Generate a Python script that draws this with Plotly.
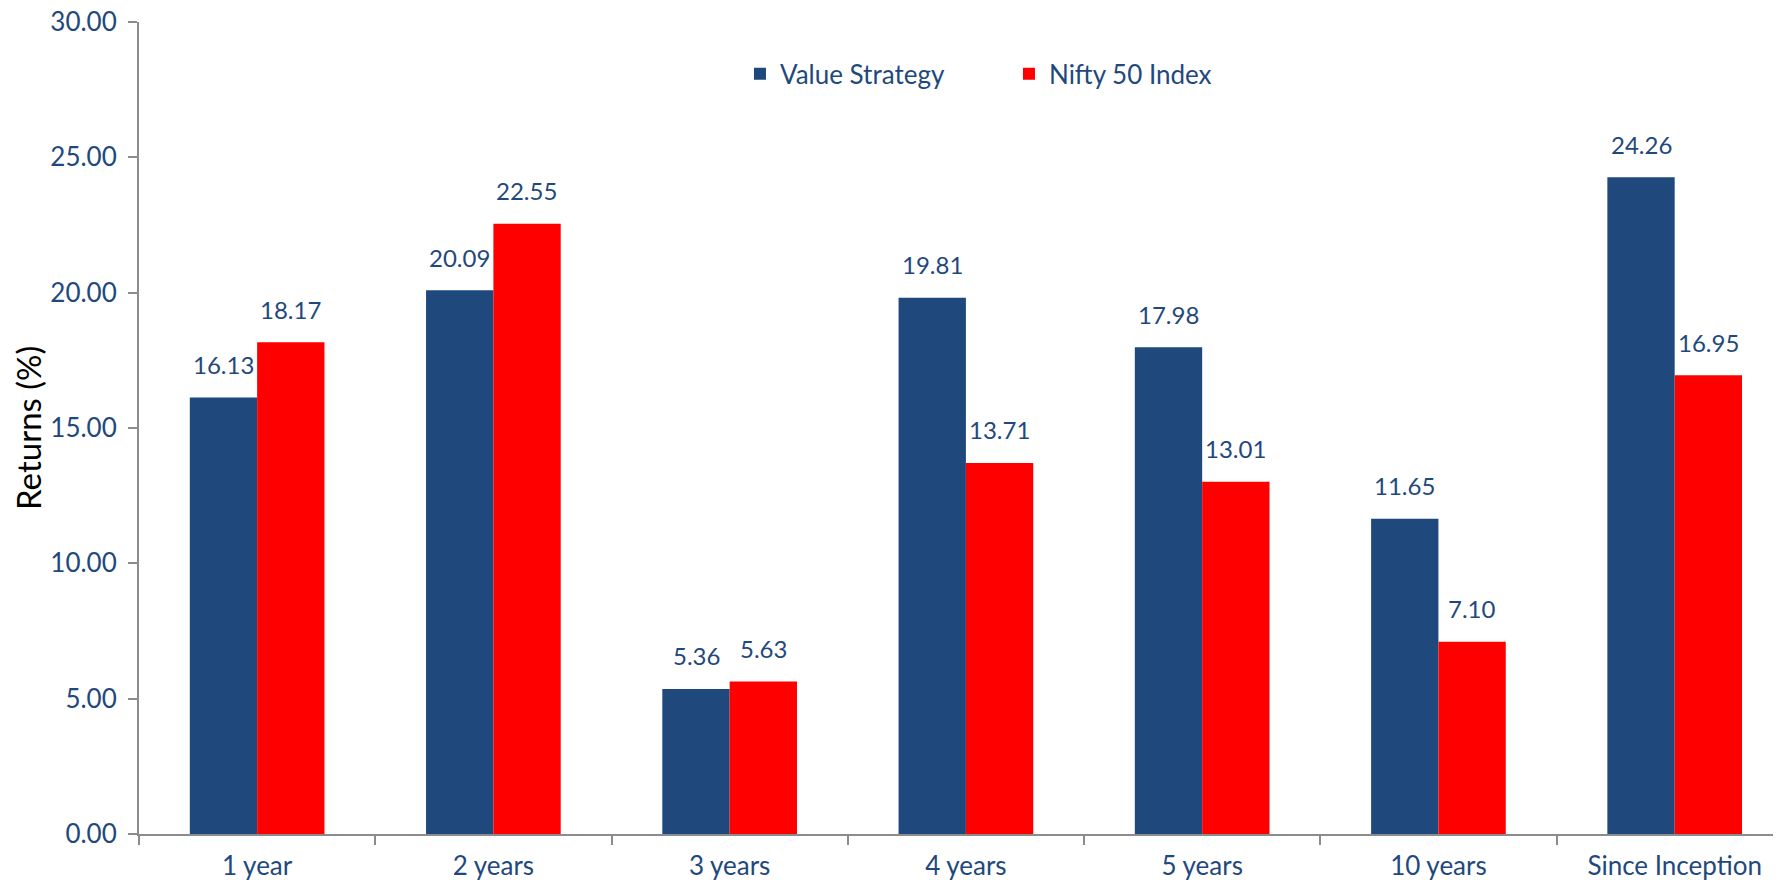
import plotly.graph_objects as go

categories = ["1 year", "2 years", "3 years", "4 years", "5 years", "10 years", "Since Inception"]
value_strategy = [16.13, 20.09, 5.36, 19.81, 17.98, 11.65, 24.26]
nifty_50 = [18.17, 22.55, 5.63, 13.71, 13.01, 7.10, 16.95]
y_ticks = [0, 5, 10, 15, 20, 25, 30]

NAVY = "#1F497D"
BLUE = "#1F497D"
RED = "#FF0000"
FONT = "Lato, 'Open Sans', sans-serif"
FS = 26

fig = go.Figure()
fig.add_trace(go.Bar(name="Value Strategy", x=categories, y=value_strategy,
                     marker=dict(color=BLUE, line=dict(width=0))))
fig.add_trace(go.Bar(name="Nifty 50 Index", x=categories, y=nifty_50,
                     marker=dict(color=RED, line=dict(width=0))))

bar_px = 67
for series, shift in ((value_strategy, -bar_px / 2), (nifty_50, bar_px / 2)):
    for c, v in zip(categories, series):
        fig.add_annotation(x=c, y=v, text=f"{v:.2f}", showarrow=False,
                           xshift=shift, yshift=33, yanchor="middle",
                           font=dict(family=FONT, size=24, color=NAVY))

fig.add_annotation(text="Returns (%)", xref="paper", yref="paper", x=0, y=0.5,
                   xshift=-111, textangle=-90, showarrow=False,
                   xanchor="center", yanchor="middle",
                   font=dict(family=FONT, size=33, color="black"))

fig.update_layout(
    width=1773, height=872,
    margin=dict(l=131, r=0, t=14, b=46, autoexpand=False),
    paper_bgcolor="white", plot_bgcolor="white",
    barmode="group", bargap=0.43, bargroupgap=0,
    font=dict(family=FONT, color=NAVY, size=FS),
    showlegend=True,
    legend=dict(orientation="h", x=0.366, xanchor="left", y=0.936, yanchor="middle",
                font=dict(family=FONT, size=FS, color=NAVY), entrywidth=224,
                bgcolor="rgba(0,0,0,0)"),
    xaxis=dict(range=[-0.5, 6.45], showline=True, linecolor="#8C8C8C", linewidth=2,
               ticks="outside", tickson="boundaries", ticklen=9, tickcolor="#8C8C8C",
               tickwidth=2, showgrid=False, zeroline=False, automargin=False,
               ticklabelstandoff=8, ticklabeloverflow="allow",
               tickfont=dict(family=FONT, size=FS, color=NAVY)),
    yaxis=dict(range=[0, 30], tickvals=y_ticks, ticktext=[f"{t:.2f}" for t in y_ticks],
               showline=True, linecolor="#8C8C8C", linewidth=2,
               ticks="outside", ticklen=9, tickcolor="#8C8C8C", tickwidth=2,
               showgrid=False, zeroline=False, automargin=False,
               ticklabelstandoff=6, ticklabeloverflow="allow",
               tickfont=dict(family=FONT, size=FS, color=NAVY)),
)

fig.write_html("out.html")
